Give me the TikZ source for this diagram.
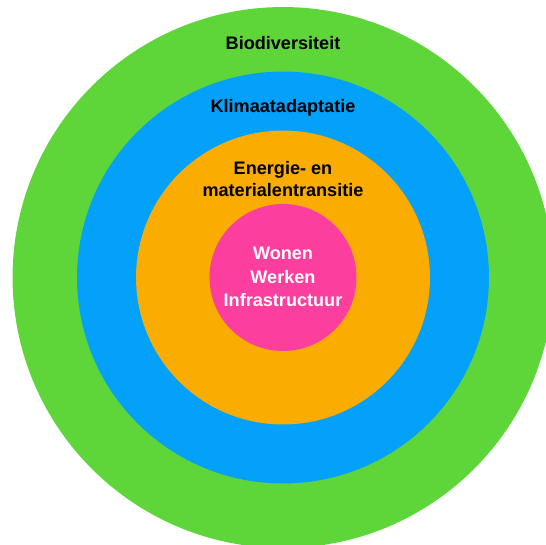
\documentclass[tikz,border=0pt]{standalone}
\usepackage{fontspec}
\setmainfont{Liberation Sans}
\usepackage{xcolor}
\definecolor{ringgroen}{HTML}{5ED63A}
\definecolor{ringblauw}{HTML}{03A1FA}
\definecolor{ringoranje}{HTML}{FAAC00}
\definecolor{ringroze}{HTML}{FC3F9E}

\begin{document}
\begin{tikzpicture}[x=0.02cm, y=-0.02cm,
    ring/.style={circle, inner sep=0pt},
    ringtext/.style={align=center, font=\bfseries\fontsize{10.3}{12.6}\selectfont}]
    \useasboundingbox (0, 0) rectangle (546, 544);
    \clip (0, 0) rectangle (546, 544);
    \node[ring, fill=ringgroen,  minimum size=10.82cm] (bio)    at (283, 277.5) {};
    \node[ring, fill=ringblauw,  minimum size=8.24cm]  (klimaat) at (283, 277.5) {};
    \node[ring, fill=ringoranje, minimum size=5.88cm]  (energie) at (283, 277.5) {};
    \node[ring, fill=ringroze,   minimum size=2.94cm]  (wonen)   at (283, 277.5) {};
    \node[ringtext] (biotext)     at (283, 43.5) {Biodiversiteit};
    \node[ringtext] (klimaattext) at (283, 108)  {Klimaatadaptatie};
    \node[ringtext] (energietext) at (283, 179)  {Energie- en\\materialentransitie};
    \node[ringtext, text=white, font=\bfseries\fontsize{10.3}{13.2}\selectfont] (wonentext) at (283, 277) {Wonen\\Werken\\Infrastructuur};
\end{tikzpicture}
\end{document}
